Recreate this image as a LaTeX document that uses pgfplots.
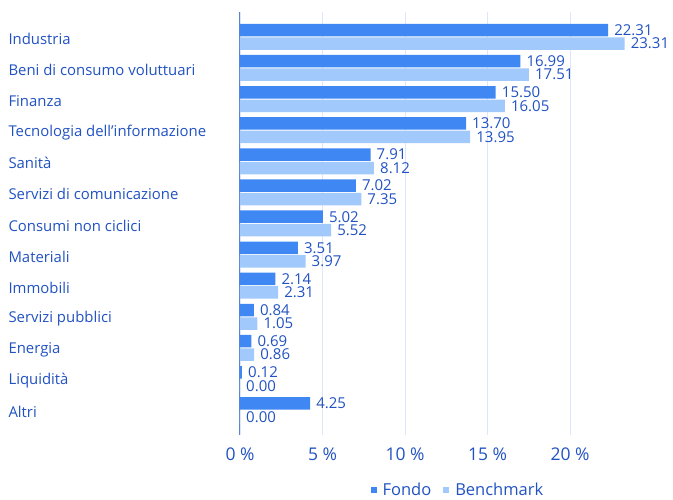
\documentclass[border=0pt]{standalone}
\usepackage{pgfplots}
\pgfplotsset{compat=1.18}
\usepackage{fontspec}
\setmainfont{Open Sans}
\definecolor{txtblue}{HTML}{2152C2}
\definecolor{fondo}{HTML}{3F87F2}
\definecolor{bench}{HTML}{A2C9FB}
\definecolor{gridc}{HTML}{DCE8F9}
\definecolor{axisc}{HTML}{5A84CC}
\begin{document}
\begin{tikzpicture}
\useasboundingbox (0,0) rectangle (673pt,500pt);
\begin{axis}[
    at={(240pt,65pt)}, anchor=south west,
    scale only axis,
    width=429pt, height=423pt,
    xbar=1pt,
    bar width=12.5pt,
    xmin=0, xmax=26,
    ymin=-0.8, ymax=12.8,
    y dir=reverse,
    axis x line*=bottom,
    axis y line*=left,
    x axis line style={draw=none},
    y axis line style={draw=axisc, line width=1pt, -},
    xmajorgrids,
    grid style={gridc, line width=0.8pt},
    major tick length=0pt,
    /pgf/number format/assume math mode=true,
    xtick={0,5,10,15,20},
    xticklabels={0 \%,5 \%,10 \%,15 \%,20 \%},
    xticklabel style={font=\fontsize{17.5}{20}\selectfont, text=txtblue, yshift=-9pt},
    ytick={0,...,12},
    yticklabels={Industria, Beni di consumo voluttuari, Finanza,
        Tecnologia dell’informazione, Sanità, Servizi di comunicazione,
        Consumi non ciclici, Materiali, Immobili, Servizi pubblici,
        Energia, Liquidità, Altri},
    yticklabel style={anchor=west, xshift=-235pt, yshift=-2pt, font=\fontsize{14.9}{17}\selectfont, text=txtblue},
    point meta=x,
    nodes near coords={\pgfmathprintnumber[fixed,zerofill,precision=2]{\pgfplotspointmeta}},
    nodes near coords style={anchor=west, font=\fontsize{15}{17}\selectfont, text=txtblue, inner sep=2.5pt, xshift=3.5pt},
    legend columns=2,
    legend style={draw=none, fill=none, at={(0.508,-0.13)}, anchor=center,
        font=\fontsize{16.5}{19}\selectfont, text=txtblue,
        /tikz/every odd column/.append style={column sep=4pt},
        /tikz/every even column/.append style={column sep=10pt}},
    legend image code/.code={\fill[#1] (0pt,-3pt) rectangle (6pt,3pt);},
    clip=false,
]
\addplot[fill=fondo, draw=none, bar shift=6.75pt] coordinates {
    (22.31,0) (16.99,1) (15.50,2) (13.70,3) (7.91,4) (7.02,5) (5.02,6)
    (3.51,7) (2.14,8) (0.84,9) (0.69,10) (0.12,11) (4.25,12)
};
\addplot[fill=bench, draw=none, bar shift=-6.75pt] coordinates {
    (23.31,0) (17.51,1) (16.05,2) (13.95,3) (8.12,4) (7.35,5) (5.52,6)
    (3.97,7) (2.31,8) (1.05,9) (0.86,10) (0.00,11) (0.00,12)
};
\legend{Fondo, Benchmark}
\end{axis}
\end{tikzpicture}
\end{document}
